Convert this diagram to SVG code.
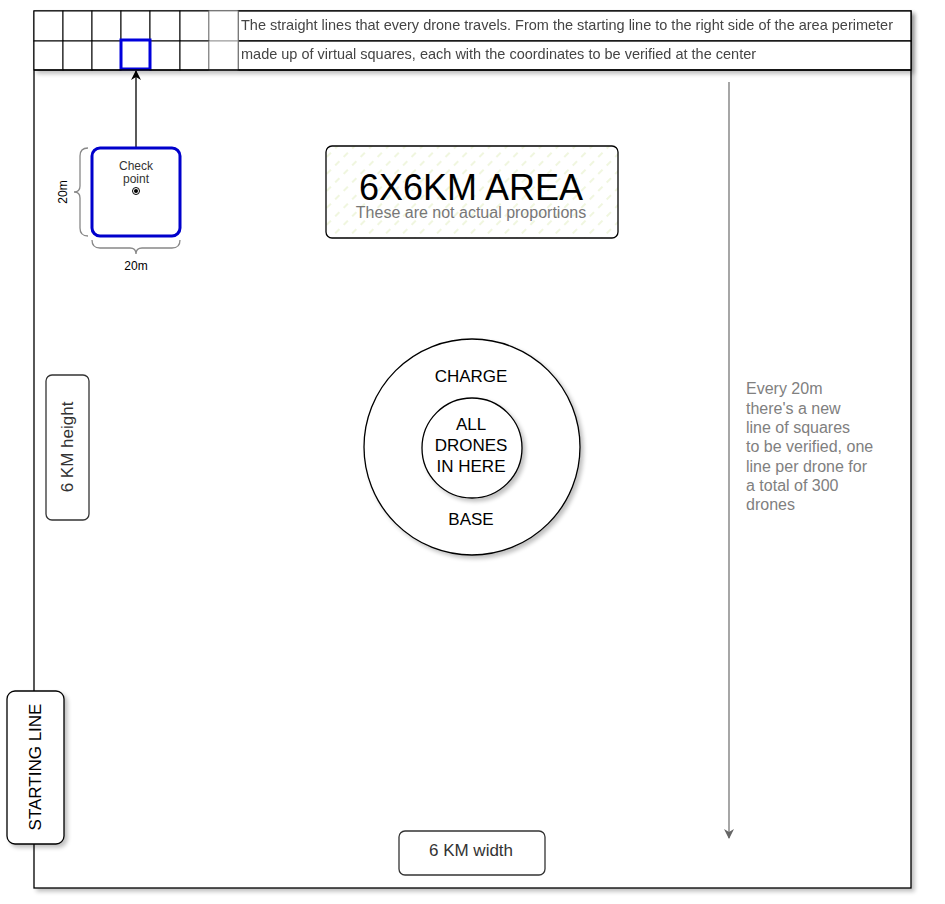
<svg xmlns="http://www.w3.org/2000/svg" width="945" height="904" viewBox="0 0 945 904">
<style>
text{font-family:"Liberation Sans",Arial,sans-serif;}
.box{fill:#fff;stroke:#000;stroke-width:1.3;}
.cell{fill:#fff;stroke:#000;stroke-width:1;}
.lcell{fill:#fff;stroke:#999;stroke-width:1;}
.lbl{font-size:17px;fill:#000;text-anchor:middle;}
.dk{font-size:17px;fill:#333;text-anchor:middle;}
.top{font-size:14.5px;fill:#444;}
.brace{fill:none;stroke:#888;stroke-width:1.3;}
</style>
<defs>
<filter id="sh" x="-10%" y="-10%" width="130%" height="130%">
<feGaussianBlur in="SourceAlpha" stdDeviation="2"/>
<feOffset dx="3" dy="3"/>
<feComponentTransfer><feFuncA type="linear" slope="0.25"/></feComponentTransfer>
<feMerge><feMergeNode/><feMergeNode in="SourceGraphic"/></feMerge>
</filter>
<pattern id="hatch" width="12" height="12" patternUnits="userSpaceOnUse" patternTransform="rotate(-45)">
<rect width="12" height="12" fill="#fff"/>
<line x1="0" y1="6" x2="6" y2="6" stroke="#e2edc0" stroke-width="1"/>
</pattern>
<marker id="ab" viewBox="0 0 10 10" refX="9" refY="5" markerWidth="10" markerHeight="10" markerUnits="userSpaceOnUse" orient="auto">
<path d="M0,0 L10,5 L0,10 L3,5 Z" fill="#000"/>
</marker>
<marker id="ag" viewBox="0 0 10 10" refX="9" refY="5" markerWidth="10" markerHeight="10" markerUnits="userSpaceOnUse" orient="auto">
<path d="M0,0 L10,5 L0,10 L3,5 Z" fill="#666"/>
</marker>
</defs>

<g id="area">
<rect x="34" y="11" width="877" height="877" class="box" filter="url(#sh)"/>
</g>

<g id="strip" filter="url(#sh)">
<rect x="34" y="11" width="877" height="59" fill="#fff" stroke="none"/>
<rect x="238" y="11" width="673" height="30" class="box"/>
<rect x="238" y="41" width="673" height="29" class="box"/>
<rect x="34" y="11" width="29" height="30" class="cell"/>
<rect x="63" y="11" width="29" height="30" class="cell"/>
<rect x="92" y="11" width="29" height="30" class="cell"/>
<rect x="121" y="11" width="29" height="30" class="cell"/>
<rect x="150" y="11" width="30" height="30" class="cell" stroke="#333"/>
<rect x="180" y="11" width="29" height="30" class="cell" stroke="#555"/>
<rect x="209" y="11" width="29" height="30" class="lcell"/>
<rect x="34" y="41" width="29" height="29" class="cell"/>
<rect x="63" y="41" width="29" height="29" class="cell"/>
<rect x="92" y="41" width="29" height="29" class="cell"/>
<rect x="150" y="41" width="30" height="29" class="cell" stroke="#333"/>
<rect x="180" y="41" width="29" height="29" class="cell" stroke="#555"/>
<rect x="209" y="41" width="29" height="29" class="lcell"/>
<rect x="121" y="40" width="29" height="29" fill="#fff" stroke="#0000dd" stroke-width="3"/>
<line x1="34" y1="70" x2="911" y2="70" stroke="#000" stroke-width="1.3"/>
<text x="241" y="30" class="top">The straight lines that every drone travels. From the starting line to the right side of the area perimeter</text>
<text x="241" y="59" class="top">made up of virtual squares, each with the coordinates to be verified at the center</text>
</g>

<g id="connectors">
<line x1="136" y1="148" x2="136" y2="71" stroke="#000" stroke-width="1.3" marker-end="url(#ab)"/>
<line x1="729" y1="82" x2="729" y2="838" stroke="#777" stroke-width="1.3" marker-end="url(#ag)"/>
</g>

<g id="checkpoint">
<rect x="92" y="148" width="88" height="88" rx="8" fill="#fff" stroke="#0000cc" stroke-width="3"/>
<text x="136" y="170" font-size="12" fill="#333" text-anchor="middle">Check</text>
<text x="136" y="183" font-size="12" fill="#333" text-anchor="middle">point</text>
<circle cx="136" cy="191" r="3.5" fill="#fff" stroke="#000" stroke-width="1"/>
<circle cx="136" cy="191" r="2" fill="#000"/>
</g>

<g id="brace-left">
<path class="brace" d="M88,148 Q80,148 80,156 L80,186 Q80,192 74,192 Q80,192 80,198 L80,228 Q80,236 88,236"/>
<text x="67" y="192" font-size="12" fill="#000" text-anchor="middle" transform="rotate(-90 67 192)">20m</text>
</g>

<g id="brace-bottom">
<path class="brace" d="M92,240 Q92,248 100,248 L130,248 Q136,248 136,254 Q136,248 142,248 L172,248 Q180,248 180,240"/>
<text x="136" y="270" font-size="12" fill="#000" text-anchor="middle">20m</text>
</g>

<g id="title">
<rect x="326" y="146" width="292" height="92" rx="6" fill="url(#hatch)" stroke="#000" stroke-width="1.3"/>
<text x="471" y="200" font-size="36" fill="#000" text-anchor="middle">6X6KM AREA</text>
<text x="471" y="218" font-size="16" fill="#777" text-anchor="middle">These are not actual proportions</text>
</g>

<g id="charge-base">
<circle cx="472" cy="447" r="108" fill="#fff" stroke="#000" stroke-width="1.3" filter="url(#sh)"/>
<text x="471" y="382" class="lbl">CHARGE</text>
<text x="471" y="525" class="lbl">BASE</text>
</g>

<g id="drones">
<circle cx="472" cy="448" r="50" fill="#fff" stroke="#000" stroke-width="1.3" filter="url(#sh)"/>
<text x="471" y="430" class="lbl">ALL</text>
<text x="471" y="451" class="lbl">DRONES</text>
<text x="471" y="472" class="lbl">IN HERE</text>
</g>

<g id="height">
<rect x="46" y="375" width="43" height="145" rx="6" fill="#fff" stroke="#333" stroke-width="1.3"/>
<text x="0" y="0" class="dk" transform="translate(73 447) rotate(-90)">6 KM height</text>
</g>

<g id="starting-line">
<rect x="7" y="691" width="57" height="153" rx="8" fill="#fff" stroke="#000" stroke-width="1.3" filter="url(#sh)"/>
<text x="0" y="0" class="lbl" transform="translate(41 767) rotate(-90)">STARTING LINE</text>
</g>

<g id="width">
<rect x="399" y="831" width="146" height="44" rx="6" fill="#fff" stroke="#333" stroke-width="1.3"/>
<text x="471" y="856" class="dk">6 KM width</text>
</g>

<g id="note" font-size="16" fill="#808080">
<text x="746" y="394">Every 20m</text>
<text x="746" y="414">there's a new</text>
<text x="746" y="433">line of squares</text>
<text x="746" y="452">to be verified, one</text>
<text x="746" y="472">line per drone for</text>
<text x="746" y="491">a total of 300</text>
<text x="746" y="510">drones</text>
</g>
</svg>
